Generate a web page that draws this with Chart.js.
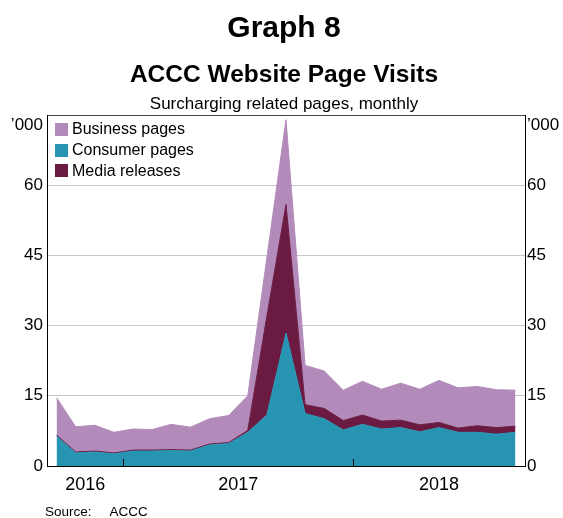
<!DOCTYPE html>
<html>
<head>
<meta charset="utf-8">
<script src="https://cdn.jsdelivr.net/npm/chart.js@4/dist/chart.umd.min.js"></script>
<style>
  html, body { margin: 0; padding: 0; background: #fff; }
  body { width: 563px; height: 518px; position: relative; overflow: hidden; font-family: Arial, "Liberation Sans", sans-serif; color: #000; }
  #c { position: absolute; left: 0; top: 0; }
  .t { position: absolute; left: 0; width: 568px; text-align: center; line-height: 1; white-space: nowrap; }
  #legend { position: absolute; left: 55px; top: 119px; }
  .row { display: flex; align-items: center; height: 20.7px; }
  .sw { width: 13px; height: 13px; margin-right: 4px; flex: none; }
  .lt { font-size: 16px; line-height: 1; white-space: nowrap; }
  #src { position: absolute; left: 45px; top: 505px; font-size: 13.5px; line-height: 1; white-space: nowrap; }
</style>
</head>
<body>
<canvas id="c" width="563" height="518"></canvas>
<div class="t" style="top:12px;font-size:30px;font-weight:bold;">Graph 8</div>
<div class="t" style="top:62px;font-size:24.5px;font-weight:bold;">ACCC Website Page Visits</div>
<div class="t" style="top:94.5px;font-size:17px;">Surcharging related pages, monthly</div>
<div id="legend"></div>
<div id="src">Source:<span style="display:inline-block;width:18px"></span>ACCC</div>
<script>
// ---- Data (thousands of visits, monthly) ----
const months = ['2016-09','2016-10','2016-11','2016-12',
  '2017-01','2017-02','2017-03','2017-04','2017-05','2017-06','2017-07','2017-08','2017-09','2017-10','2017-11','2017-12',
  '2018-01','2018-02','2018-03','2018-04','2018-05','2018-06','2018-07','2018-08','2018-09'];
const consumerPages = [6.4, 2.8, 3.0, 2.6, 3.2, 3.2, 3.3, 3.2, 4.5, 4.8, 7.2, 10.9, 28.4, 11.2, 10.1, 7.7, 8.9, 7.9, 8.2, 7.3, 8.2, 7.2, 7.2, 6.8, 7.2];
const mediaReleases = [0.2, 0.2, 0.2, 0.2, 0.2, 0.2, 0.2, 0.2, 0.2, 0.2, 0.4, 21.1, 27.5, 1.9, 2.2, 2.0, 2.0, 1.7, 1.6, 1.5, 1.1, 0.9, 1.4, 1.4, 1.3];
const businessPages = [8.0, 5.4, 5.5, 4.4, 4.5, 4.4, 5.4, 4.9, 5.4, 5.8, 7.4, 12.5, 18.1, 8.4, 8.0, 6.5, 7.2, 6.8, 7.9, 7.6, 9.0, 8.6, 8.4, 8.1, 7.7];
const yTickValues = [0, 15, 30, 45, 60, 75];
const yUnitLabel = '\u2019000';

const colours = { business: '#b38bba', consumer: '#2794b2', media: '#6b1a41' };

// year spans (in month-index units) for labels and boundary ticks
const xMin = -0.5, xMax = months.length - 0.5;
const years = [];
months.forEach((m, i) => {
  const y = m.slice(0, 4);
  let e = years.find(o => o.year === y);
  if (!e) { e = { year: y, first: i, last: i }; years.push(e); }
  e.last = i;
});
const yearTicks = years.map(o => ({ value: ((Math.max(o.first - 0.5, xMin)) + (Math.min(o.last + 0.5, xMax))) / 2 }));
const yearLabels = years.map(o => o.year);
const yearBoundaries = years.slice(1).map(o => o.first - 0.5);

const toXY = arr => arr.map((v, i) => ({ x: i, y: v }));

const datasets = [
  { key: 'consumer', label: 'Consumer pages', data: toXY(consumerPages), fill: 'origin' },
  { key: 'media', label: 'Media releases', data: toXY(mediaReleases), fill: '-1' },
  { key: 'business', label: 'Business pages', data: toXY(businessPages), fill: '-1' }
].map(d => Object.assign(d, {
  backgroundColor: colours[d.key], borderColor: colours[d.key], borderWidth: 1,
  pointRadius: 0, pointHoverRadius: 0, tension: 0, yAxisID: 'y'
}));

// HTML legend in reference order
const legendOrder = ['business', 'consumer', 'media'];
const legendEl = document.getElementById('legend');
legendOrder.forEach(k => {
  const d = datasets.find(x => x.key === k);
  const row = document.createElement('div'); row.className = 'row';
  const sw = document.createElement('div'); sw.className = 'sw'; sw.style.background = d.backgroundColor;
  const tx = document.createElement('div'); tx.className = 'lt'; tx.textContent = d.label;
  row.appendChild(sw); row.appendChild(tx); legendEl.appendChild(row);
});

const FONT = 'Arial, "Liberation Sans", sans-serif';

const yearTickPlugin = {
  id: 'yearTicks',
  afterDraw(chart) {
    const xs = chart.scales.x, ca = chart.chartArea, ctx = chart.ctx;
    ctx.save();
    ctx.strokeStyle = '#000'; ctx.lineWidth = 1;
    yearBoundaries.forEach(b => {
      const px = Math.round(xs.getPixelForValue(b)) + 0.5;
      ctx.beginPath(); ctx.moveTo(px, ca.bottom); ctx.lineTo(px, ca.bottom - 7); ctx.stroke();
    });
    ctx.restore();
  }
};

const yTickCallback = v => v === yTickValues[yTickValues.length - 1] ? ['', yUnitLabel] : String(v);

new Chart(document.getElementById('c'), {
  type: 'line',
  data: { datasets },
  plugins: [yearTickPlugin],
  options: {
    responsive: false,
    animation: false,
    layout: { padding: { top: 115, left: 0, right: 0, bottom: 0 } },
    plugins: { legend: { display: false }, tooltip: { enabled: false }, title: { display: false } },
    elements: { line: { borderJoinStyle: 'miter' } },
    scales: {
      x: {
        type: 'linear', min: xMin, max: xMax,
        afterBuildTicks: s => { s.ticks = yearTicks.map(t => ({ value: t.value })); },
        afterFit: s => { s.height = 52; },
        ticks: { autoSkip: false, maxRotation: 0, padding: 0, color: '#000', font: { family: FONT, size: 18 },
          callback: (v, i) => yearLabels[i] },
        grid: { display: false },
        border: { display: true, color: '#000', width: 1 }
      },
      y: {
        type: 'linear', position: 'left', stacked: true, min: 0, max: 75,
        afterBuildTicks: s => { s.ticks = yTickValues.map(v => ({ value: v })); },
        afterFit: s => { s.width = 47; },
        ticks: { padding: 4, color: '#000', font: { family: FONT, size: 17 }, callback: yTickCallback },
        grid: { drawTicks: false, lineWidth: 1,
          color: c => c.tick && c.tick.value === 0 ? 'rgba(0,0,0,0)' : (c.tick && c.tick.value === 75 ? '#444' : '#c8c8c8') },
        border: { display: true, color: '#000', width: 1 }
      },
      y2: {
        type: 'linear', position: 'right', min: 0, max: 75,
        afterBuildTicks: s => { s.ticks = yTickValues.map(v => ({ value: v })); },
        afterFit: s => { s.width = 38; },
        ticks: { padding: 2, color: '#000', font: { family: FONT, size: 17 }, callback: yTickCallback },
        grid: { display: false, drawTicks: false },
        border: { display: true, color: '#000', width: 1 }
      }
    }
  }
});
</script>
</body>
</html>
